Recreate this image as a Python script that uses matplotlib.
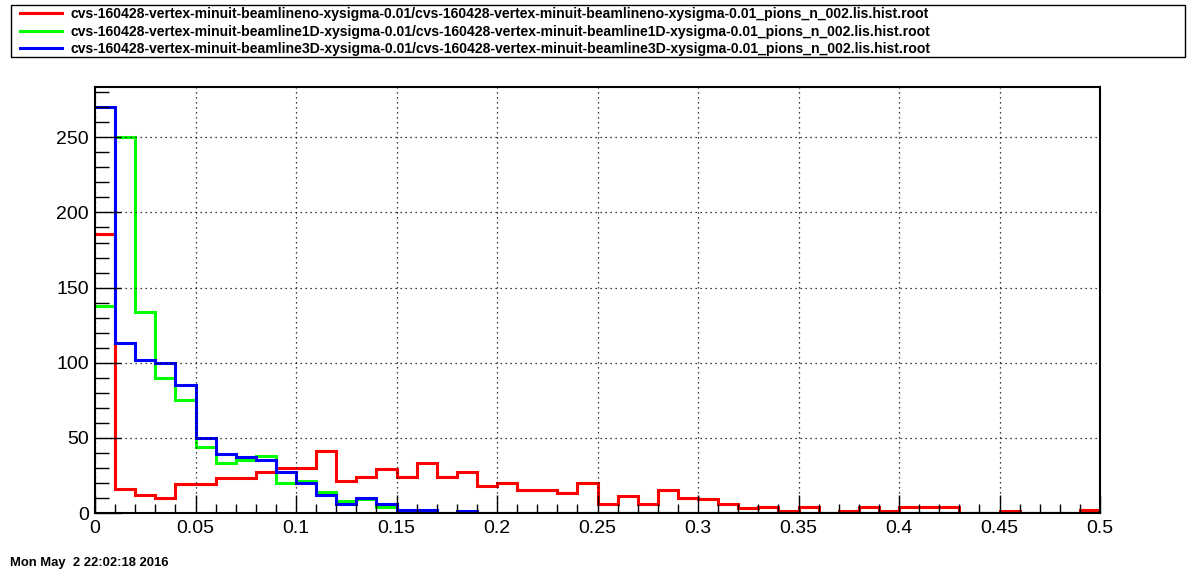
import numpy as np
import matplotlib
matplotlib.use("Agg")
import matplotlib.pyplot as plt
from matplotlib.patches import Rectangle
from matplotlib.lines import Line2D
from matplotlib.ticker import MultipleLocator

# bin edges: 50 bins of 0.01 from 0 to 0.5
bin_edges = np.linspace(0.0, 0.5, 51)

counts_beamlineno = [186, 16, 12, 10, 19, 19, 23, 23, 27, 30,
                     30, 41, 21, 24, 29, 24, 33, 24, 27, 18,
                     20, 15, 15, 13, 20, 6, 11, 6, 15, 10,
                     9, 6, 3, 4, 1, 4, 0, 1, 4, 1,
                     4, 4, 4, 0, 0, 1, 0, 0, 0, 2]
counts_beamline1D = [138, 250, 134, 90, 75, 44, 33, 35, 38, 20,
                     21, 14, 8, 9, 4, 0, 1, 0, 0, 0,
                     0, 0, 0, 0, 0, 0, 0, 0, 0, 0,
                     0, 0, 0, 0, 0, 0, 0, 0, 0, 0,
                     0, 0, 0, 0, 0, 0, 0, 0, 0, 0]
counts_beamline3D = [270, 113, 102, 100, 85, 50, 39, 37, 35, 27,
                     20, 12, 6, 10, 6, 2, 2, 0, 1, 0,
                     0, 0, 0, 0, 0, 0, 0, 0, 0, 0,
                     0, 0, 0, 0, 0, 0, 0, 0, 0, 0,
                     0, 0, 0, 0, 0, 0, 0, 0, 0, 0]

labels = [
    "cvs-160428-vertex-minuit-beamlineno-xysigma-0.01/cvs-160428-vertex-minuit-beamlineno-xysigma-0.01_pions_n_002.lis.hist.root",
    "cvs-160428-vertex-minuit-beamline1D-xysigma-0.01/cvs-160428-vertex-minuit-beamline1D-xysigma-0.01_pions_n_002.lis.hist.root",
    "cvs-160428-vertex-minuit-beamline3D-xysigma-0.01/cvs-160428-vertex-minuit-beamline3D-xysigma-0.01_pions_n_002.lis.hist.root",
]
colors = ["#ff0000", "#00ff00", "#0000ff"]

plt.rcParams['font.family'] = ['Liberation Sans', 'DejaVu Sans']

W, H = 1196, 572
fig = plt.figure(figsize=(W / 100, H / 100), dpi=100)
ax = fig.add_axes([95 / W, 1 - 513 / H, (1100 - 95) / W, (513 - 87) / H])

for cnt, col in zip([counts_beamlineno, counts_beamline1D, counts_beamline3D], colors):
    ax.stairs(cnt, bin_edges, color=col, linewidth=2.2, baseline=None)

ymax = 1.05 * max(counts_beamline3D)
ax.set_xlim(0, 0.5)
ax.set_ylim(0, ymax)

ax.xaxis.set_minor_locator(MultipleLocator(0.01))
ax.yaxis.set_major_locator(MultipleLocator(50))
ax.yaxis.set_minor_locator(MultipleLocator(10))
ax.set_xticks(np.arange(0, 0.501, 0.05))
ax.set_xticklabels(["0", "0.05", "0.1", "0.15", "0.2", "0.25", "0.3", "0.35", "0.4", "0.45", "0.5"])

ax.grid(True, which='major', color='black', linestyle=(0, (1, 3)), linewidth=0.9)
ax.tick_params(axis='both', which='both', direction='in', labelsize=14, width=1)
ax.tick_params(axis='y', which='major', length=19)
ax.tick_params(axis='y', which='minor', length=10)
ax.tick_params(axis='x', which='major', length=13)
ax.tick_params(axis='x', which='minor', length=6.5)
ax.tick_params(axis='x', pad=5)
ax.tick_params(axis='y', pad=4.5)
for sp in ax.spines.values():
    sp.set_linewidth(1.5)

# legend box
fig.patches.append(Rectangle((11 / W, 1 - 57 / H), (1185 - 11) / W, 52 / H,
                             transform=fig.transFigure, fill=False,
                             edgecolor='black', linewidth=1.0))
handles = [Line2D([], [], color=c, linewidth=2.2) for c in colors]
fig.legend(handles, labels, loc='upper left', bbox_to_anchor=(20 / W, 1 - 7 / H),
           frameon=False, prop={'weight': 'bold', 'size': 10.1},
           handlelength=3.0, handletextpad=0.57, labelspacing=0.26,
           borderaxespad=0, borderpad=0)

fig.text(10 / W, 1 - 563 / H, "Mon May  2 22:02:18 2016", fontsize=9.4,
         fontweight='bold', va='center', ha='left')

fig.savefig("out.png", dpi=100)
